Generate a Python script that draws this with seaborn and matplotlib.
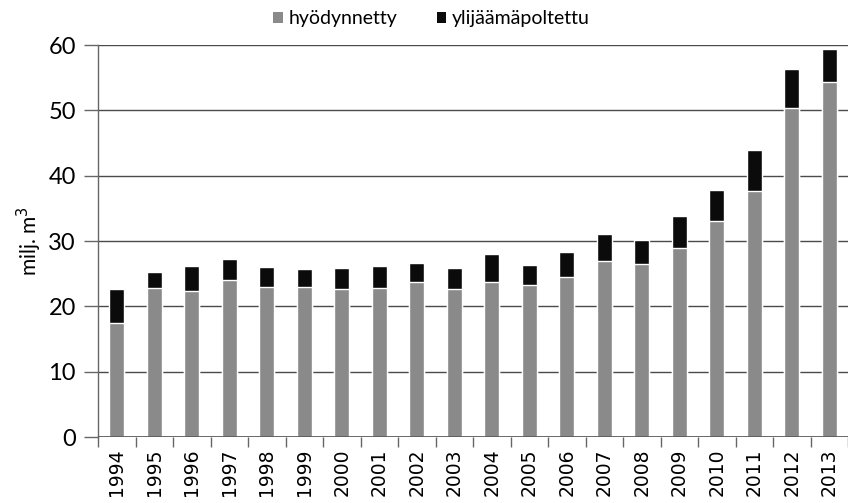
import matplotlib
matplotlib.use("Agg")
import matplotlib.pyplot as plt
from matplotlib.patches import Patch
from matplotlib.ticker import FixedLocator
import seaborn as sns
import pandas as pd

# Annual volumes, million m3
years = ["1994", "1995", "1996", "1997", "1998", "1999", "2000", "2001", "2002", "2003",
         "2004", "2005", "2006", "2007", "2008", "2009", "2010", "2011", "2012", "2013"]
hyodynnetty = [17.5, 22.8, 22.3, 24.0, 22.9, 22.9, 22.7, 22.8, 23.7, 22.6,
               23.8, 23.2, 24.5, 27.0, 26.5, 29.0, 33.0, 37.6, 50.4, 54.4]
ylijaama = [5.2, 2.5, 3.9, 3.3, 3.2, 2.8, 3.2, 3.4, 2.9, 3.3,
            4.2, 3.2, 3.9, 4.1, 3.6, 4.8, 4.8, 6.4, 6.0, 5.0]

series_names = ["hyödynnetty", "ylijäämäpoltettu"]
gray = "#8a8a8a"
black = "#0b0b0b"

df = pd.DataFrame({"vuosi": years, "hyodynnetty": hyodynnetty, "ylijaama": ylijaama})
df["yhteensa"] = df["hyodynnetty"] + df["ylijaama"]

sns.set_theme(style="white")
plt.rcParams["font.family"] = ["Lato", "DejaVu Sans"]
plt.rcParams["text.color"] = "black"
plt.rcParams["axes.labelcolor"] = "black"
plt.rcParams["xtick.color"] = "black"
plt.rcParams["ytick.color"] = "black"

fig = plt.figure(figsize=(8.48, 5.03), dpi=100)
ax = fig.add_axes([0.1156, 0.131, 0.8844, 0.7795])

# Stacked bars: full height in black, used part in gray over it
sns.barplot(data=df, x="vuosi", y="yhteensa", color=black, width=0.4,
            saturation=1, ax=ax, zorder=3)
sns.barplot(data=df, x="vuosi", y="hyodynnetty", color=gray, width=0.4,
            saturation=1, ax=ax, zorder=4)

ax.set_xlim(-0.5, len(years) - 0.5)
ax.set_ylim(0, 60)
ax.set_yticks(range(0, 61, 10))
ax.yaxis.grid(True, color="#4a4a4a", linewidth=1.0, zorder=1)
ax.xaxis.grid(False)

for side in ["top", "right", "bottom"]:
    ax.spines[side].set_visible(False)
ax.spines["left"].set_color("#666666")
ax.spines["left"].set_linewidth(1.0)
ax.axhline(0, color="#555555", linewidth=1.2, zorder=5)

ax.tick_params(axis="y", which="major", direction="out", length=10, width=1,
               color="#666666", labelcolor="black", labelsize=17, pad=6, left=True)
ax.tick_params(axis="x", which="major", length=0, labelcolor="black",
               labelsize=13.5, pad=8)
ax.xaxis.set_minor_locator(FixedLocator([i - 0.5 for i in range(len(years) + 1)]))
ax.tick_params(axis="x", which="minor", direction="out", length=7, width=1,
               color="#666666", bottom=True)
for lbl in ax.get_xticklabels():
    lbl.set_rotation(90)
    lbl.set_fontfamily("DejaVu Sans")

ax.set_xlabel("")
ax.set_ylabel("milj. m$^3$", fontsize=15, labelpad=3)

handles = [Patch(facecolor=gray, edgecolor="none", label=series_names[0]),
           Patch(facecolor=black, edgecolor="none", label=series_names[1])]
fig.legend(handles=handles, loc="center", bbox_to_anchor=(0.509, 0.963), ncol=2,
           frameon=False, fontsize=14, handlelength=0.5, handleheight=0.5,
           handletextpad=0.3, columnspacing=2.0)

fig.savefig("out.png", dpi=100)
